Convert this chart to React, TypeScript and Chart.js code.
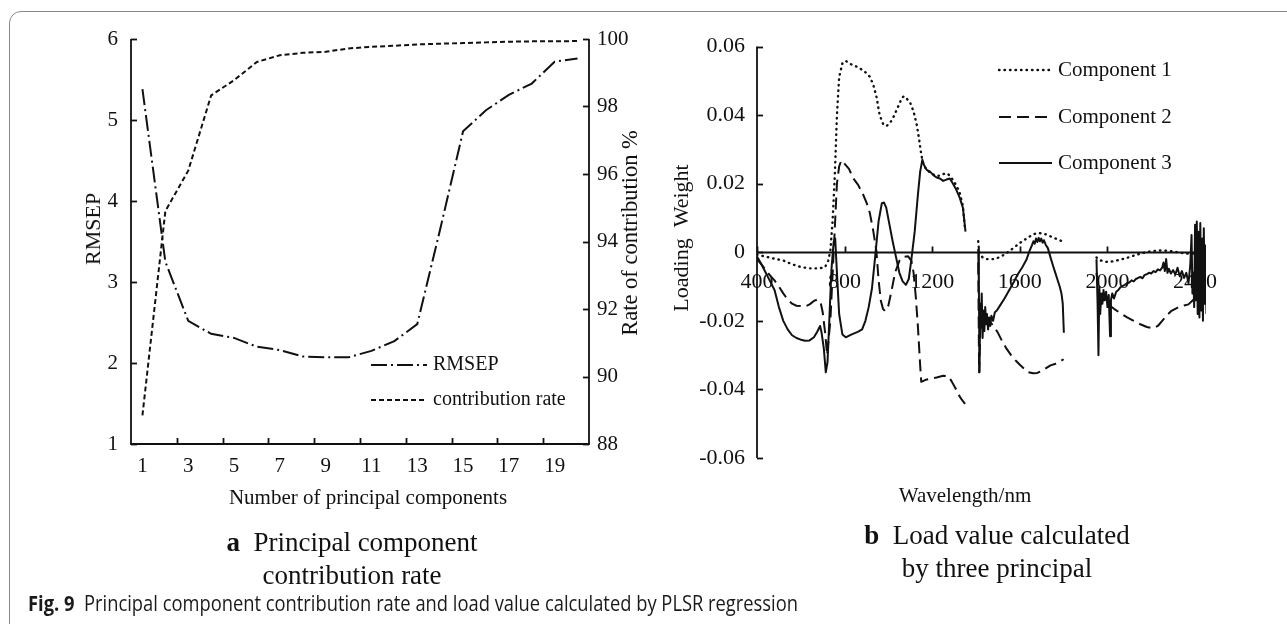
import React, { useEffect, useRef } from "react";
import { Chart, registerables } from "chart.js";

Chart.register(...registerables);

const SERIF = '"Liberation Serif", "Times New Roman", serif';
const SANS = '"Open Sans", "Noto Sans", sans-serif';
const INK = "#111111";

// ---------- Panel a : principal component contribution ----------
const pcLabels = ["1", "2", "3", "4", "5", "6", "7", "8", "9", "10", "11", "12", "13", "14", "15", "16", "17", "18", "19", "20"];
const rmsepValues = [5.38, 3.25, 2.52, 2.36, 2.31, 2.2, 2.16, 2.08, 2.07, 2.07, 2.15, 2.27, 2.48, 3.65, 4.86, 5.12, 5.31, 5.45, 5.72, 5.76];
const contributionValues = [88.85, 94.9, 96.1, 98.33, 98.78, 99.32, 99.52, 99.59, 99.62, 99.72, 99.77, 99.8, 99.84, 99.86, 99.88, 99.9, 99.92, 99.93, 99.93, 99.94];
const rmsepTicks = [1, 2, 3, 4, 5, 6];
const rateTicks = [88, 90, 92, 94, 96, 98, 100];

// ---------- Panel b : loading weights ----------
const wlTicks = [400, 800, 1200, 1600, 2000, 2400];
const weightTicks = [-0.06, -0.04, -0.02, 0, 0.02, 0.04, 0.06];
const weightLabels = ["-0.06", "-0.04", "-0.02", "0", "0.02", "0.04", "0.06"];

const comp1Wl = [400, 440, 480, 520, 560, 600, 640, 680, 710, 725, 735, 745, 755, 765, 775, 790, 805, 830, 860, 890, 915, 930, 945, 960, 975, 990, 1005, 1020, 1040, 1060, 1070, 1085, 1100, 1115, 1130, 1140, 1150, 1160, 1175, 1200, 1225, 1250, 1270, 1290, 1310, 1325, 1340, 1350,
  1380,
  1410, 1415, 1430, 1450, 1480, 1510, 1540, 1570, 1600, 1630, 1660, 1680, 1700, 1720, 1745, 1770, 1790, 1805,
  1880,
  1950, 1970, 1995, 2020, 2050, 2080, 2110, 2140, 2170, 2200, 2230, 2260, 2290, 2320, 2350, 2380, 2400, 2420, 2440, 2450];
const comp1Val = [-0.0007, -0.0013, -0.0019, -0.0024, -0.0035, -0.0043, -0.0047, -0.0047, -0.0044, -0.0025, 0.0005, 0.009, 0.022, 0.04, 0.051, 0.0552, 0.0558, 0.0548, 0.054, 0.0528, 0.0512, 0.049, 0.0455, 0.04, 0.0375, 0.0368, 0.0375, 0.039, 0.0418, 0.0448, 0.0455, 0.0447, 0.0435, 0.041, 0.037, 0.033, 0.0285, 0.0255, 0.024, 0.0228, 0.0222, 0.0228, 0.023, 0.0215, 0.0195, 0.0175, 0.0135, 0.0065,
  null,
  0.0032, -0.0002, -0.0015, -0.002, -0.002, -0.0014, -0.0002, 0.0012, 0.0027, 0.004, 0.0052, 0.0056, 0.0055, 0.0052, 0.0045, 0.0038, 0.0033, 0.0031,
  null,
  -0.0015, -0.0024, -0.0028, -0.0027, -0.0023, -0.0018, -0.0012, -0.0006, -0.0001, 0.0003, 0.0005, 0.0005, 0.0003, 0.0, -0.0003, -0.0005, -0.0003, 0.0004, -0.0004, 0.0];

const comp2Wl = [400, 420, 440, 460, 480, 500, 520, 540, 560, 580, 600, 620, 640, 660, 675, 690, 700, 712, 720, 735, 750, 765, 775, 785, 800, 820, 840, 860, 880, 900, 915, 930, 945, 955, 965, 975, 985, 1000, 1015, 1030, 1050, 1070, 1090, 1105, 1115, 1125, 1135, 1145, 1150, 1170, 1195, 1220, 1250, 1275, 1290, 1305, 1320, 1335, 1350,
  1380,
  1410, 1414, 1420, 1440, 1460, 1480, 1500, 1520, 1540, 1560, 1580, 1600, 1620, 1640, 1660, 1680, 1700, 1720, 1740, 1760, 1780, 1800,
  1880,
  1950, 1960, 1980, 2000, 2030, 2060, 2090, 2120, 2150, 2180, 2210, 2230, 2250, 2270, 2290, 2310, 2330, 2350, 2370, 2390, 2410, 2430, 2450];
const comp2Val = [-0.002, -0.0035, -0.0052, -0.0068, -0.0082, -0.01, -0.012, -0.0138, -0.015, -0.0156, -0.0157, -0.0158, -0.0152, -0.0142, -0.0138, -0.0145, -0.0175, -0.024, -0.03, -0.02, 0.0, 0.02, 0.025, 0.0268, 0.0258, 0.0243, 0.0215, 0.0198, 0.0175, 0.0145, 0.0115, 0.0065, 0.0005, -0.008, -0.014, -0.0165, -0.0172, -0.0155, -0.011, -0.006, -0.0025, -0.0013, -0.0012, -0.0025, -0.006, -0.013, -0.022, -0.033, -0.0378, -0.0372, -0.0368, -0.0365, -0.036, -0.0362, -0.0378, -0.0395, -0.0415, -0.043, -0.0442,
  null,
  -0.003, -0.035, -0.022, -0.0195, -0.02, -0.0215, -0.0235, -0.026, -0.0282, -0.03, -0.0315, -0.0328, -0.034, -0.035, -0.0353, -0.0352, -0.0346, -0.0338, -0.033, -0.0326, -0.032, -0.0312,
  null,
  -0.006, -0.012, -0.014, -0.015, -0.0165, -0.0178, -0.019, -0.02, -0.021, -0.0218, -0.0222, -0.0215, -0.02, -0.0185, -0.0172, -0.0165, -0.0158, -0.0155, -0.0152, -0.014, -0.0125, -0.0135, -0.012];

const comp3Wl = [400, 420, 440, 460, 480, 500, 520, 540, 560, 580, 600, 620, 640, 660, 675, 688, 695, 705, 714, 722, 730, 740, 750, 757, 765, 775, 790, 805, 830, 860, 880, 895, 910, 925, 940, 955, 970, 980, 990, 1005, 1020, 1035, 1050, 1065, 1080, 1093, 1105, 1120, 1135, 1145, 1155, 1162, 1175, 1190, 1205, 1220, 1235, 1250, 1265, 1280, 1295, 1310, 1325, 1340, 1352,
  1380,
  1410, 1413, 1416, 1419, 1422, 1426, 1430, 1434, 1438, 1442, 1446, 1450, 1455, 1460, 1465, 1470, 1478, 1486, 1495, 1510, 1530, 1550, 1570, 1590, 1610, 1630, 1645, 1655, 1662, 1668, 1674, 1680, 1686, 1692, 1698, 1704, 1710, 1718, 1728, 1740, 1752, 1762, 1772, 1782, 1790, 1796, 1801,
  1880,
  1950, 1955, 1959, 1963, 1967, 1972, 1977, 1982, 1988, 1994, 2000, 2006, 2012, 2016, 2022, 2030, 2040, 2050, 2060, 2070, 2080, 2090, 2100, 2110, 2120, 2130, 2140, 2150, 2160, 2170, 2180, 2190, 2200, 2210, 2220, 2230, 2240, 2250, 2256, 2262, 2268, 2274, 2280, 2290, 2300, 2310, 2320, 2330, 2340, 2350, 2360, 2370, 2378, 2384, 2388, 2392, 2396, 2400, 2404, 2408, 2412, 2416, 2420, 2424, 2428, 2432, 2436, 2440, 2444, 2448, 2452];
const comp3Val = [-0.0012, -0.0035, -0.006, -0.0085, -0.011, -0.016, -0.02, -0.0225, -0.0242, -0.025, -0.0255, -0.0258, -0.0257, -0.0248, -0.0232, -0.0215, -0.0235, -0.028, -0.035, -0.032, -0.02, -0.005, 0.003, 0.004, -0.006, -0.018, -0.024, -0.0248, -0.024, -0.0232, -0.0225, -0.02, -0.016, -0.0105, -0.001, 0.009, 0.0143, 0.0145, 0.013, 0.008, 0.003, -0.0015, -0.006, -0.0085, -0.0095, -0.0078, -0.002, 0.006, 0.017, 0.0235, 0.027, 0.0255, 0.024, 0.0235, 0.0225, 0.0218, 0.0215, 0.0208, 0.0212, 0.0215, 0.02, 0.0182, 0.016, 0.013, 0.006,
  null,
  0.001, -0.01, -0.035, -0.015, -0.022, -0.012, -0.025, -0.017, -0.023, -0.016, -0.021, -0.018, -0.0225, -0.019, -0.0215, -0.0185, -0.02, -0.0175, -0.017, -0.0155, -0.0135, -0.0112, -0.009, -0.0065, -0.0045, -0.0022, 0.0005, 0.002, 0.0032, 0.0025, 0.004, 0.003, 0.0042, 0.0032, 0.004, 0.0028, 0.0035, 0.0022, 0.0012, -0.0015, -0.004, -0.006, -0.008, -0.01, -0.012, -0.015, -0.0235,
  null,
  -0.002, -0.015, -0.03, -0.01, -0.018, -0.012, -0.015, -0.011, -0.014, -0.0115, -0.016, -0.0125, -0.0245, -0.014, -0.012, -0.0135, -0.0115, -0.011, -0.0102, -0.0098, -0.0095, -0.009, -0.0088, -0.0082, -0.0085, -0.0078, -0.0075, -0.0072, -0.0076, -0.0066, -0.0064, -0.006, -0.0062, -0.0055, -0.0058, -0.005, -0.0053, -0.0045, -0.003, -0.0055, -0.002, -0.006, -0.0048, -0.0062, -0.0052, -0.0065, -0.0045, -0.007, -0.0055, -0.0075, -0.006, -0.009, -0.004, 0.005, -0.012, -0.006, -0.016, 0.008, -0.014, 0.009, -0.018, 0.006, -0.019, 0.0085, -0.017, 0.004, -0.02, 0.007, -0.015, 0.002, -0.018];

const toPoints = (xs: number[], ys: (number | null)[]) => xs.map((x, i) => ({ x, y: ys[i] }));

function line(ctx: CanvasRenderingContext2D, x1: number, y1: number, x2: number, y2: number) {
  ctx.beginPath();
  ctx.moveTo(x1, y1);
  ctx.lineTo(x2, y2);
  ctx.stroke();
}

function legendRow(ctx: CanvasRenderingContext2D, x: number, y: number, len: number, dash: number[], width: number, cap: CanvasLineCap, text: string, font: string) {
  ctx.save();
  ctx.strokeStyle = INK;
  ctx.lineWidth = width;
  ctx.lineCap = cap;
  ctx.setLineDash(dash);
  line(ctx, x, y, x + len, y);
  ctx.setLineDash([]);
  ctx.fillStyle = INK;
  ctx.font = font;
  ctx.textBaseline = "middle";
  ctx.textAlign = "left";
  ctx.fillText(text, x + len + 6, y);
  ctx.restore();
}

function PanelA() {
  const ref = useRef<HTMLCanvasElement>(null);
  useEffect(() => {
    const frame = {
      id: "frameA",
      afterDraw(chart: any) {
        const { ctx, chartArea: ca } = chart;
        ctx.save();
        ctx.strokeStyle = INK;
        ctx.lineWidth = 1.8;
        ctx.beginPath();
        ctx.moveTo(ca.left, ca.top);
        ctx.lineTo(ca.left, ca.bottom);
        ctx.lineTo(ca.right, ca.bottom);
        ctx.lineTo(ca.right, ca.top);
        ctx.stroke();
        const y = chart.scales.y;
        rmsepTicks.forEach((v) => {
          const p = Math.round(y.getPixelForValue(v)) + 0.5;
          line(ctx, ca.left, p, ca.left + 6, p);
        });
        const y1 = chart.scales.y1;
        rateTicks.forEach((v) => {
          const p = Math.round(y1.getPixelForValue(v)) + 0.5;
          line(ctx, ca.right - 6, p, ca.right, p);
        });
        const step = (ca.right - ca.left) / pcLabels.length;
        for (let k = 2; k < pcLabels.length; k += 2) {
          const x = Math.round(ca.left + k * step) + 0.5;
          line(ctx, x, ca.bottom, x, ca.bottom - 6);
        }
        ctx.restore();
        const f = `20px ${SERIF}`;
        legendRow(ctx, 371, 365, 56, [16, 4, 2, 4], 2, "butt", "RMSEP", f);
        legendRow(ctx, 371, 400, 56, [5, 3], 2, "butt", "contribution rate", f);
      },
    };
    const chart = new Chart(ref.current!, {
      type: "line",
      data: {
        labels: pcLabels,
        datasets: [
          {
            label: "RMSEP",
            data: rmsepValues,
            yAxisID: "y",
            borderColor: INK,
            borderWidth: 2,
            borderDash: [16, 4, 2, 4],
            pointRadius: 0,
            tension: 0,
            fill: false,
          },
          {
            label: "contribution rate",
            data: contributionValues,
            yAxisID: "y1",
            borderColor: INK,
            borderWidth: 2,
            borderDash: [5, 3],
            pointRadius: 0,
            tension: 0,
            fill: false,
          },
        ],
      },
      options: {
        responsive: false,
        animation: false,
        events: [],
        layout: { padding: { left: 71, right: 21, top: 39, bottom: 6 } },
        plugins: { legend: { display: false }, tooltip: { enabled: false } },
        scales: {
          x: {
            type: "category",
            offset: true,
            grid: { display: false, drawTicks: false },
            border: { display: false },
            afterFit: (s: any) => { s.height = 40; },
            ticks: {
              autoSkip: false,
              maxRotation: 0,
              padding: 10,
              color: INK,
              font: { family: SERIF, size: 21 },
              callback: (_v: any, i: number) => (i % 2 === 0 ? pcLabels[i] : ""),
            },
          },
          y: {
            position: "left",
            min: 1,
            max: 6,
            grid: { display: false, drawTicks: false },
            border: { display: false },
            afterFit: (s: any) => { s.width = 60; },
            afterBuildTicks: (s: any) => { s.ticks = rmsepTicks.map((v) => ({ value: v })); },
            ticks: { padding: 13, color: INK, font: { family: SERIF, size: 21 } },
          },
          y1: {
            position: "right",
            min: 88,
            max: 100,
            grid: { display: false, drawTicks: false },
            border: { display: false },
            afterFit: (s: any) => { s.width = 50; },
            afterBuildTicks: (s: any) => { s.ticks = rateTicks.map((v) => ({ value: v })); },
            ticks: { padding: 8, color: INK, font: { family: SERIF, size: 21 } },
          },
        },
      },
      plugins: [frame],
    } as any);
    return () => chart.destroy();
  }, []);
  return <canvas ref={ref} width={660} height={490} style={{ position: "absolute", left: 0, top: 0, width: 660, height: 490 }} />;
}

function PanelB() {
  const ref = useRef<HTMLCanvasElement>(null);
  useEffect(() => {
    const frame = {
      id: "frameB",
      afterDraw(chart: any) {
        const { ctx, chartArea: ca } = chart;
        const y = chart.scales.y;
        const x = chart.scales.x;
        const y0 = Math.round(y.getPixelForValue(0)) + 0.5;
        ctx.save();
        ctx.strokeStyle = INK;
        ctx.lineWidth = 1.8;
        line(ctx, ca.left, ca.top, ca.left, ca.bottom);
        line(ctx, ca.left, y0, ca.right, y0);
        weightTicks.forEach((v) => {
          const p = Math.round(y.getPixelForValue(v)) + 0.5;
          line(ctx, ca.left, p, ca.left + 6, p);
        });
        wlTicks.forEach((v) => {
          const p = Math.round(x.getPixelForValue(v)) + 0.5;
          line(ctx, p, y0, p, y0 - 6);
        });
        ctx.restore();
        const f = `21px ${SERIF}`;
        legendRow(ctx, 339, 70, 53, [0.5, 5], 2.4, "round", "Component 1", f);
        legendRow(ctx, 339, 117, 53, [12, 6], 2, "butt", "Component 2", f);
        legendRow(ctx, 339, 163, 53, [], 2, "butt", "Component 3", f);
      },
    };
    const common = { pointRadius: 0, tension: 0, fill: false, spanGaps: false, borderColor: INK, borderJoinStyle: "round" };
    const chart = new Chart(ref.current!, {
      type: "line",
      data: {
        datasets: [
          { ...common, label: "Component 1", data: toPoints(comp1Wl, comp1Val), borderWidth: 2.4, borderDash: [0.5, 5], borderCapStyle: "round" },
          { ...common, label: "Component 2", data: toPoints(comp2Wl, comp2Val), borderWidth: 2, borderDash: [12, 6] },
          { ...common, label: "Component 3", data: toPoints(comp3Wl, comp3Val), borderWidth: 2 },
        ],
      },
      options: {
        responsive: false,
        animation: false,
        events: [],
        layout: { padding: { left: 17, right: 81, top: 46.5, bottom: 32 } },
        plugins: { legend: { display: false }, tooltip: { enabled: false } },
        scales: {
          x: {
            type: "linear",
            min: 400,
            max: 2450,
            position: { y: 0 },
            grid: { display: false, drawTicks: false },
            border: { display: false },
            afterBuildTicks: (s: any) => { s.ticks = wlTicks.map((v) => ({ value: v })); },
            ticks: { padding: 17, maxRotation: 0, color: INK, font: { family: SERIF, size: 22 }, callback: (v: any) => String(v) },
          },
          y: {
            position: "left",
            min: -0.06,
            max: 0.06,
            grid: { display: false, drawTicks: false },
            border: { display: false },
            afterFit: (s: any) => { s.width = 80; },
            afterBuildTicks: (s: any) => { s.ticks = weightTicks.map((v) => ({ value: v })); },
            ticks: {
              padding: 12,
              color: INK,
              font: { family: SERIF, size: 22 },
              callback: (_v: any, i: number) => weightLabels[i],
            },
          },
        },
      },
      plugins: [frame],
    } as any);
    return () => chart.destroy();
  }, []);
  return <canvas ref={ref} width={627} height={490} style={{ position: "absolute", left: 660, top: 0, width: 627, height: 490 }} />;
}

const centered = (cx: number, cy: number, size: number, extra: React.CSSProperties = {}): React.CSSProperties => ({
  position: "absolute",
  left: cx,
  top: cy,
  transform: "translate(-50%, -50%)",
  whiteSpace: "nowrap",
  fontFamily: SERIF,
  fontSize: size,
  color: INK,
  lineHeight: 1,
  ...extra,
});

const rotated = (cx: number, cy: number, size: number): React.CSSProperties => ({
  ...centered(cx, cy, size),
  transform: "translate(-50%, -50%) rotate(-90deg)",
});

export default function App() {
  const capRef = useRef<HTMLDivElement>(null);
  useEffect(() => {
    const el = capRef.current;
    if (el) {
      const w = el.getBoundingClientRect().width;
      if (w > 0) el.style.transform = `scaleX(${770 / w})`;
    }
  }, []);
  return (
    <div style={{ position: "absolute", left: 0, top: 0, width: 1287, height: 624, background: "#fff", overflow: "hidden" }}>
      <div style={{ position: "absolute", left: 9, top: 11, width: 1320, height: 660, border: "1.5px solid #8a8a8a", borderRadius: 12, boxSizing: "border-box" }} />
      <PanelA />
      <PanelB />
      <div style={rotated(93, 229, 22)}>RMSEP</div>
      <div style={rotated(630, 233, 22.5)}>Rate of contribution %</div>
      <div style={centered(368, 497, 21)}>Number of principal components</div>
      <div style={centered(352, 542, 27)}><b>a</b>&nbsp;&nbsp;Principal component</div>
      <div style={centered(352, 575, 27)}>contribution rate</div>
      <div style={rotated(681, 238, 22)}>Loading&nbsp;&nbsp;Weight</div>
      <div style={centered(965, 495, 21)}>Wavelength/nm</div>
      <div style={centered(997, 535, 27)}><b>b</b>&nbsp;&nbsp;Load value calculated</div>
      <div style={centered(997, 568, 27)}>by three principal</div>
      <div ref={capRef} style={{ position: "absolute", left: 28, top: 591, whiteSpace: "nowrap", fontFamily: SANS, fontSize: 21, lineHeight: 1.2, color: "#1a1a1a", transformOrigin: "left top" }}>
        <b>Fig. 9</b>&nbsp;&nbsp;Principal component contribution rate and load value calculated by PLSR regression
      </div>
    </div>
  );
}
